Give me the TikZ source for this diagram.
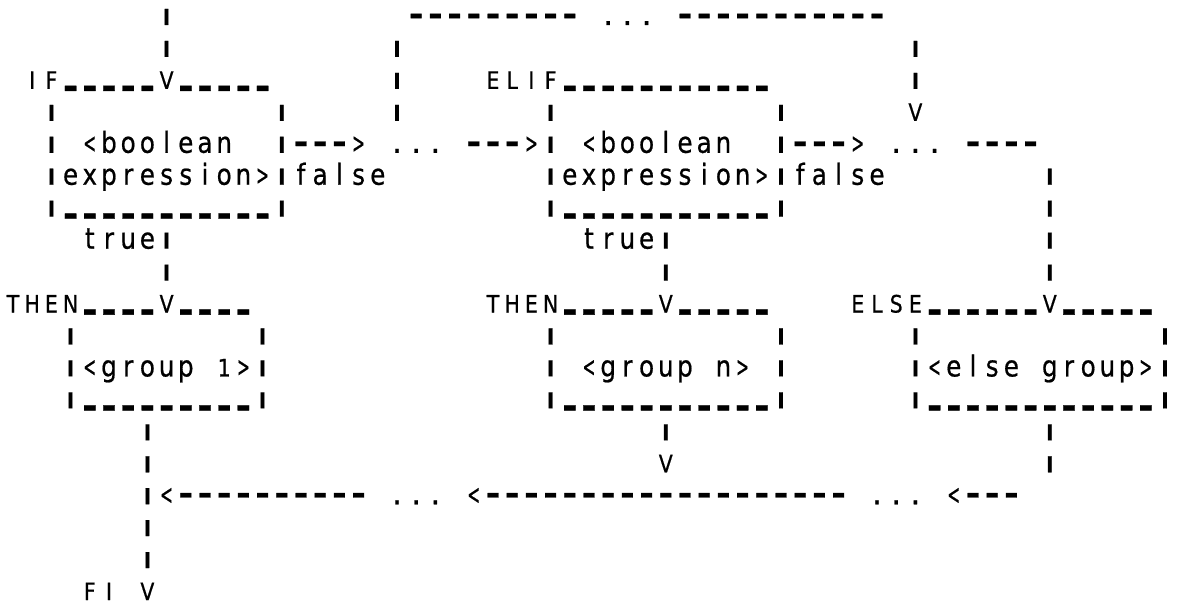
\documentclass[tikz,border=0pt]{standalone}
\usepackage{fontspec}
\usepackage{graphicx}
\newfontfamily\printfont{DejaVu Sans}[FakeBold=0.7]

% ---- character-cell typesetting of a line-printer chart ----
\newcount\acol
\def\arunend{ARUNEND}
\newcommand\lowc[1]{{\fontsize{29}{29}\selectfont\scalebox{0.85}[1]{#1}}}
\newcommand\upc[1]{{\fontsize{24}{24}\selectfont\scalebox{0.85}[1]{#1}}}
\newcommand\vbarg{\raisebox{3.8pt}{\fontsize{16}{16}\selectfont\bfseries\scalebox{2}[1]{|}}}
\newcommand\dashg{{\fontsize{26}{26}\selectfont\bfseries\scalebox{1.35}[1.2]{-}}}
\newcommand\uscg{\raisebox{11pt}{\fontsize{24}{24}\selectfont\bfseries\scalebox{0.95}[2.3]{\_}}}
\newcommand\ltg{{\fontsize{20}{20}\selectfont\scalebox{0.77}[1.4]{<}}}
\newcommand\gtg{{\fontsize{20}{20}\selectfont\scalebox{0.77}[1.4]{>}}}
\newcommand\dotg{{\fontsize{31}{31}\selectfont .}}
\newcommand\gsel[1]{%
  \ifx#1_\uscg
  \else\ifx#1|\vbarg
  \else\ifx#1-\dashg
  \else\ifx#1<\ltg
  \else\ifx#1>\gtg
  \else\ifx#1.\dotg
  \else\ifnum\lccode`#1=`#1 \lowc{#1}%
  \else\upc{#1}%
  \fi\fi\fi\fi\fi\fi\fi}
% \arun{row}{first column}{characters}, '*' leaves a cell blank
\newcommand\arun[3]{\def\arunrow{#1}\acol=#2\relax\arunloop#3\arunend}
\def\arunloop#1{%
  \ifx#1\arunend
  \else
    \ifx#1*\else\aglyph{#1}\fi
    \advance\acol by 1\relax
    \expandafter\arunloop
  \fi}
\newcommand\aglyph[1]{%
  \node[glyph] (c\arunrow-\the\acol) at ({13+19.2*\the\acol},{25+31.95*\arunrow}) {\gsel#1};}

\tikzset{glyph/.style={inner sep=0pt, outer sep=0pt, anchor=base, font=\printfont}}

\begin{document}
\begin{tikzpicture}[x=1pt,y=-1pt]
\useasboundingbox[fill=white] (0,0) rectangle (1183,604);
% loop back from the false exits to ELIF
\arun{0}{8}{|}
\arun{0}{21}{---------*...*-----------}
\arun{1}{8}{|}\arun{1}{20}{|}\arun{1}{47}{|}
% IF and ELIF headers
\arun{2}{1}{IF_____V_____}
\arun{2}{20}{|}
\arun{2}{25}{ELIF___________}
\arun{2}{47}{|}
\arun{3}{2}{|}\arun{3}{14}{|}\arun{3}{20}{|}\arun{3}{28}{|}\arun{3}{40}{|}\arun{3}{47}{V}
% boolean tests
\arun{4}{2}{|*<boolean**|--->*...*--->|*<boolean**|--->*...*----}
\arun{5}{2}{|expression>|false}\arun{5}{28}{|expression>|false}\arun{5}{54}{|}
\arun{6}{2}{|___________|}\arun{6}{28}{|___________|}\arun{6}{54}{|}
\arun{7}{4}{true|}\arun{7}{30}{true|}\arun{7}{54}{|}
\arun{8}{8}{|}\arun{8}{34}{|}\arun{8}{54}{|}
% THEN / ELSE groups
\arun{9}{0}{THEN____V____}
\arun{9}{25}{THEN_____V_____}
\arun{9}{44}{ELSE______V_____}
\arun{10}{3}{|}\arun{10}{13}{|}\arun{10}{28}{|}\arun{10}{40}{|}\arun{10}{47}{|}\arun{10}{60}{|}
\arun{11}{3}{|<group*1>|}\arun{11}{28}{|*<group*n>*|}\arun{11}{47}{|<else*group>|}
\arun{12}{3}{|_________|}\arun{12}{28}{|___________|}\arun{12}{47}{|____________|}
\arun{13}{7}{|}\arun{13}{34}{|}\arun{13}{54}{|}
\arun{14}{7}{|}\arun{14}{34}{V}\arun{14}{54}{|}
% join to FI
\arun{15}{7}{|<----------*...*<-------------------*...*<---}
\arun{16}{7}{|}
\arun{17}{7}{|}
\arun{18}{4}{FI*V}
\end{tikzpicture}
\end{document}
